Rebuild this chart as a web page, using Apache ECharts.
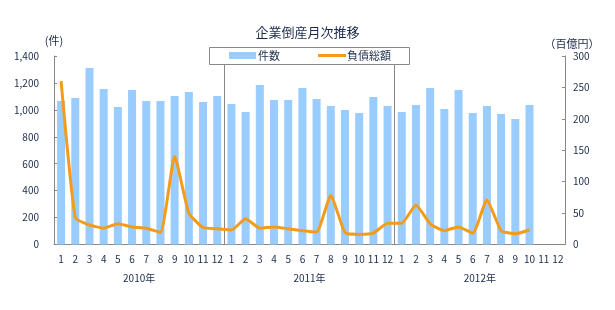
<!DOCTYPE html>
<html>
<head>
<meta charset="utf-8">
<script src="https://cdn.jsdelivr.net/npm/echarts@6/dist/echarts.min.js"></script>
<style>html,body{margin:0;padding:0;background:#fff}#c{width:615px;height:310px}</style>
</head>
<body>
<div id="c"></div>
<script>
var monthLabels = ['1','2','3','4','5','6','7','8','9','10','11','12',
                   '1','2','3','4','5','6','7','8','9','10','11','12',
                   '1','2','3','4','5','6','7','8','9','10','11','12'];
var yearLabels = ['2010年','2011年','2012年'];
var counts = [1066,1088,1311,1155,1021,1148,1066,1066,1103,1133,1059,1103,
              1044,984,1185,1074,1074,1163,1081,1029,999,977,1096,1029,
              984,1036,1163,1006,1148,977,1029,970,932,1036,null,null];
var debt = [260,43,31,26,33,28,26,19,140,50,27,25,
            23,41,26,28,25,22,20,78,19,16,18,34,
            34,63,33,22,28,18,71,22,17,23,null,null];
var leftTicks = [0,1400,200];
var rightTicks = [0,300,50];

var txt = '#1a2b4a';
var axisGray = '#888';
var font = 'Noto Sans CJK JP';
var chart = echarts.init(document.getElementById('c'), null, {renderer:'canvas'});
chart.setOption({
  animation:false,
  textStyle:{fontFamily:font},
  title:{text:'企業倒産月次推移', left:'center', top:21,
    textStyle:{fontSize:13, fontWeight:'normal', color:txt, fontFamily:font}},
  graphic:[{
    type:'rect', left:209, top:47, z:10,
    shape:{width:200, height:17},
    style:{fill:'#fff', stroke:axisGray, lineWidth:1}
  }],
  legend:[{
    left:229, top:50, padding:0, itemWidth:27, itemHeight:7, z:20,
    textStyle:{fontSize:11, color:txt, fontFamily:font, padding:[0,0,0,-3]},
    data:[{name:'件数', icon:'rect'}]
  },{
    left:318, top:50, padding:0, itemWidth:28, itemHeight:3, z:20,
    textStyle:{fontSize:11, color:txt, fontFamily:font, padding:[0,0,0,-4]},
    data:[{name:'負債総額', icon:'rect'}]
  }],
  grid:{left:54, right:50, top:56, bottom:65.5},
  xAxis:[{
    type:'category', data:monthLabels, position:'bottom',
    axisLine:{lineStyle:{color:axisGray}},
    axisTick:{interval:0, length:21, lineStyle:{color:axisGray}},
    axisLabel:{interval:0, margin:10, fontSize:10, color:txt, fontFamily:font}
  },{
    type:'category', data:yearLabels, position:'bottom', gridIndex:0,
    axisLine:{show:false},
    axisTick:{interval:0, length:41, lineStyle:{color:axisGray}},
    axisLabel:{interval:0, margin:29, fontSize:10, color:txt, fontFamily:font},
    splitLine:{show:true, interval:0, lineStyle:{color:axisGray, width:1}}
  }],
  yAxis:[{
    type:'value', min:leftTicks[0], max:leftTicks[1], interval:leftTicks[2],
    name:'(件)', nameGap:10,
    nameTextStyle:{fontSize:11, color:txt, fontFamily:font, align:'center'},
    axisLine:{show:true, lineStyle:{color:axisGray}},
    axisTick:{show:true, inside:true, length:3, lineStyle:{color:axisGray}},
    axisLabel:{margin:15, fontSize:10, color:txt, fontFamily:font,
      formatter:function(v){return v.toLocaleString('en-US');}},
    splitLine:{show:false}
  },{
    type:'value', min:rightTicks[0], max:rightTicks[1], interval:rightTicks[2],
    name:'（百億円）', nameGap:7,
    nameTextStyle:{fontSize:11, color:txt, fontFamily:font, align:'center', padding:[0,0,0,14]},
    position:'right',
    axisLine:{show:true, lineStyle:{color:axisGray}},
    axisTick:{show:true, inside:true, length:3, lineStyle:{color:axisGray}},
    axisLabel:{margin:8, fontSize:10, color:txt, fontFamily:font},
    splitLine:{show:false}
  }],
  series:[{
    name:'件数', type:'bar', xAxisIndex:0, yAxisIndex:0, data:counts,
    barWidth:8, itemStyle:{color:'#99CCFF'}, z:2
  },{
    name:'負債総額', type:'line', xAxisIndex:0, yAxisIndex:1, data:debt,
    symbol:'none', smooth:0.15, connectNulls:false,
    lineStyle:{color:'#F39C1A', width:3}, itemStyle:{color:'#F39C1A'}, z:3
  }]
});
</script>
</body>
</html>
